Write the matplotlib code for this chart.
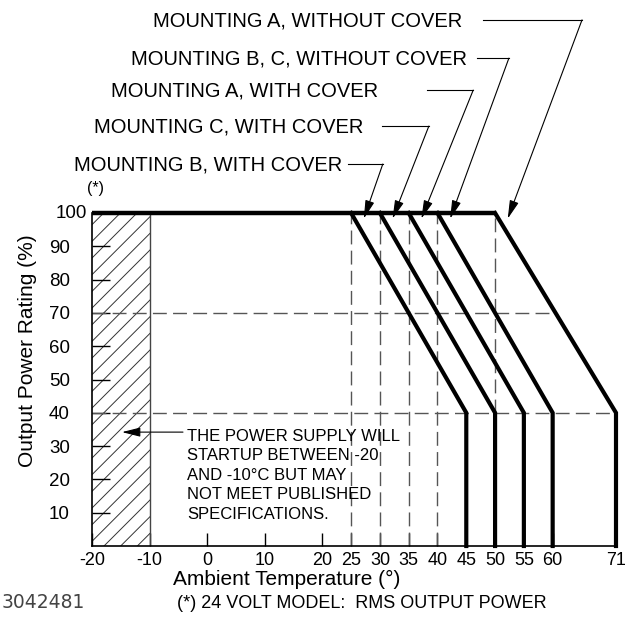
import numpy as np
import matplotlib.pyplot as plt

plt.rcParams['font.family'] = ['Liberation Sans', 'DejaVu Sans']
plt.rcParams['font.size'] = 14
plt.rcParams['axes.linewidth'] = 1.2
plt.rcParams['hatch.linewidth'] = 0.7

# derating curves: full power until start, 40 % at end
curve_labels = ['MOUNTING A, WITHOUT COVER', 'MOUNTING B, C, WITHOUT COVER',
                'MOUNTING A, WITH COVER', 'MOUNTING C, WITH COVER',
                'MOUNTING B, WITH COVER']
derate_start = [50, 40, 35, 30, 25]
derate_end = [71, 60, 55, 50, 45]
full_power = 100
low_power = 40
startup_min = -20
startup_max = -10

xticks = [-20, -10, 0, 10, 20, 25, 30, 35, 40, 45, 50, 55, 60, 71]
yticks = [10, 20, 30, 40, 50, 60, 70, 80, 90]

# leader layout (data units, outside the axes)
text_right = [44.3, 45.1, 29.7, 27.1, 23.4]
hline_start = [47.9, 46.9, 38.2, 30.4, 24.5]
corner_x = [65.1, 52.4, 46.2, 38.5, 30.5]
corner_y = [158.0, 146.5, 136.9, 126.1, 114.7]

fig = plt.figure(figsize=(6.35, 6.22), dpi=100)
ax = fig.add_axes([92/635, 1-546/622, 524/635, 333/622])
ax.set_xlim(-20, 71)
ax.set_ylim(0, 100)

# hatched startup band
ax.fill_between([startup_min, startup_max], 0, full_power, facecolor='none',
                edgecolor='#333333', hatch='//', linewidth=0)
ax.plot([startup_max, startup_max], [0, full_power], color='#444444', lw=1)

dash = dict(color='#555555', lw=1, dashes=(10, 4.5))
for xs in derate_start[1:]:
    ax.plot([xs, xs], [0, full_power], **dash)
ax.plot([derate_start[0], derate_start[0]], [low_power, full_power], **dash)
x70 = derate_start[0] + (full_power - 70) / (full_power - low_power) * (derate_end[0] - derate_start[0])
ax.plot([-20, x70], [70, 70], **dash)
ax.plot([-20, derate_end[0]], [low_power, low_power], **dash)

ax.plot([-20, max(derate_start)], [full_power, full_power], color='k', lw=3.2,
        solid_capstyle='butt', clip_on=False)
for xs, xe in zip(derate_start, derate_end):
    ax.plot([xs, xe, xe], [full_power, low_power, 0], color='k', lw=3,
            solid_joinstyle='miter', clip_on=False)

# labels with leaders
for i, lab in enumerate(curve_labels):
    ax.text(text_right[i], corner_y[i] - 0.3, lab, ha='right', va='center',
            fontsize=14.5, clip_on=False)
    ax.plot([hline_start[i], corner_x[i]], [corner_y[i], corner_y[i]],
            color='k', lw=0.8, clip_on=False)
    ax.annotate('', xy=(derate_start[i] + 2.2, 98.3), xytext=(corner_x[i], corner_y[i]),
                arrowprops=dict(arrowstyle='-|>,head_length=0.8,head_width=0.2',
                                color='k', lw=0.8, shrinkA=0, shrinkB=0),
                annotation_clip=False)

ax.annotate('', xy=(-14.8, 34.2), xytext=(-4.2, 34.2),
            arrowprops=dict(arrowstyle='-|>,head_length=0.8,head_width=0.2',
                            color='k', lw=0.8, shrinkA=0, shrinkB=0))
ax.text(-3.5, 21.2, 'THE POWER SUPPLY WILL\nSTARTUP BETWEEN -20\nAND -10\u00b0C BUT MAY\n'
        'NOT MEET PUBLISHED\nSPECIFICATIONS.', ha='left', va='center',
        fontsize=12, linespacing=1.38)

for s in ['top', 'right']:
    ax.spines[s].set_visible(False)

ax.set_xticks(xticks)
ax.set_xticklabels([str(t) for t in xticks], fontsize=13)
ax.set_yticks(yticks)
ax.set_yticklabels([str(t) for t in yticks], fontsize=13.5)
ax.tick_params(axis='x', direction='in', length=9.5, width=1, pad=4)
ax.tick_params(axis='y', direction='in', length=13, width=1, pad=16)

ax.text(-20.9, 100, '100', ha='right', va='center', fontsize=13.5)
ax.text(-20.8, 107.5, '(*)', ha='left', va='center', fontsize=11.5, clip_on=False)

ax.set_xlabel('Ambient Temperature (\u00b0)', fontsize=15, va='center')
ax.xaxis.set_label_coords(0.372, -0.1)
ax.set_ylabel('Output Power Rating (%)', fontsize=15, va='center')
ax.yaxis.set_label_coords(-0.124, 0.586)

fig.text(2/635, 1-603/622, '3042481', ha='left', va='center', family='DejaVu Sans',
         fontsize=13.5, color='#444444')
fig.text(362/635, 1-603/622, '(*) 24 VOLT MODEL:  RMS OUTPUT POWER', ha='center',
         va='center', fontsize=13)

fig.savefig('out.png', dpi=100)
